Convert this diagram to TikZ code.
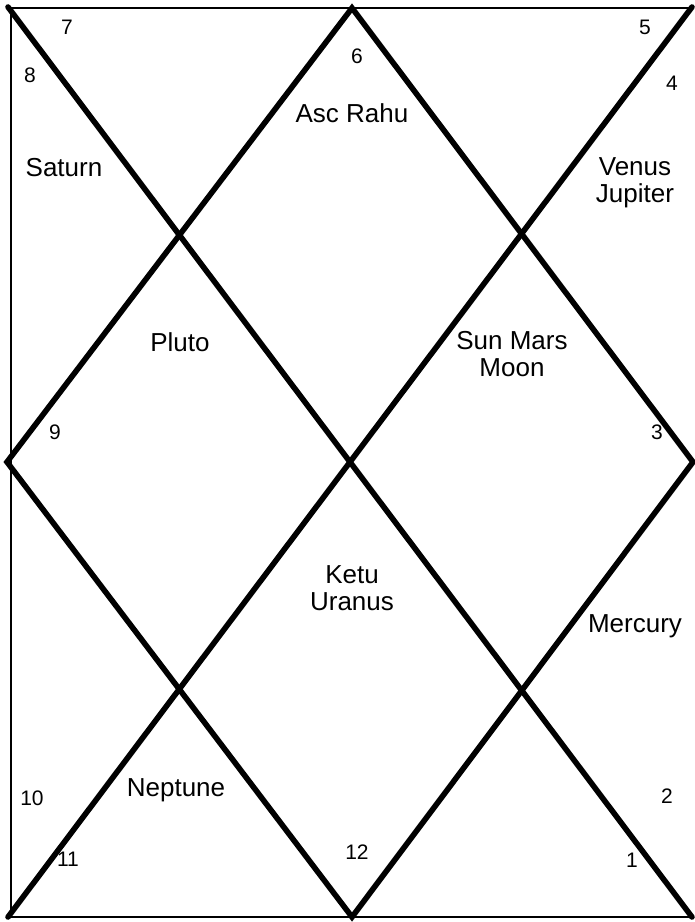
\documentclass[tikz,border=0pt]{standalone}
\usepackage{fontspec}
\setmainfont{Liberation Sans}
\begin{document}
\begin{tikzpicture}[x=1pt,y=-1pt,
  frame/.style={line width=2.8pt},
  diag/.style={line width=5.6pt,line cap=round,line join=miter},
  planet/.style={font=\fontsize{26}{27}\selectfont,align=center,inner sep=0pt},
  house/.style={font=\fontsize{21}{22}\selectfont,inner sep=0pt}]
\useasboundingbox (0,0) rectangle (695,922);
% corners and vertices
\coordinate (TL) at (8,7);
\coordinate (TR) at (692,7);
\coordinate (BL) at (8,917);
\coordinate (BR) at (692,917);
\coordinate (T) at (352,8);
\coordinate (L) at (7,462);
\coordinate (R) at (693,462);
\coordinate (B) at (352,917);
\coordinate (FTL) at (11,8);
\coordinate (FTR) at (692,8);
\coordinate (FBL) at (11,917);
\coordinate (FBR) at (692,917);
% frame
\draw[frame] (FTR) -- (FTL) -- (FBL) -- (FBR);
% diagonals
\draw[diag] (TL) -- (BR);
\draw[diag] (TR) -- (BL);
\draw[diag] (T) -- (R) -- (B) -- (L) -- cycle;
% planets
\node[planet] (p1) at (352,113) {Asc Rahu};
\node[planet] (p2) at (64,168) {Saturn};
\node[planet] (p3) at (635,183) {Venus\\Jupiter};
\node[planet] (p4) at (180,342) {Pluto};
\node[planet] (p5) at (512,354) {Sun Mars\\Moon};
\node[planet] (p6) at (352,588) {Ketu\\Uranus};
\node[planet] (p7) at (635,626) {Mercury};
\node[planet] (p8) at (176,790) {Neptune};
% house numbers
\node[house] (h7) at (67,27) {7};
\node[house] (h8) at (30,75) {8};
\node[house] (h6) at (357,56) {6};
\node[house] (h5) at (645,27) {5};
\node[house] (h4) at (672,83) {4};
\node[house] (h9) at (55,432) {9};
\node[house] (h3) at (657,432) {3};
\node[house] (h10) at (32,798) {10};
\node[house] (h11) at (68,859) {11};
\node[house] (h12) at (357,852) {12};
\node[house] (h2) at (667,796) {2};
\node[house] (h1) at (632,860) {1};
\end{tikzpicture}
\end{document}
